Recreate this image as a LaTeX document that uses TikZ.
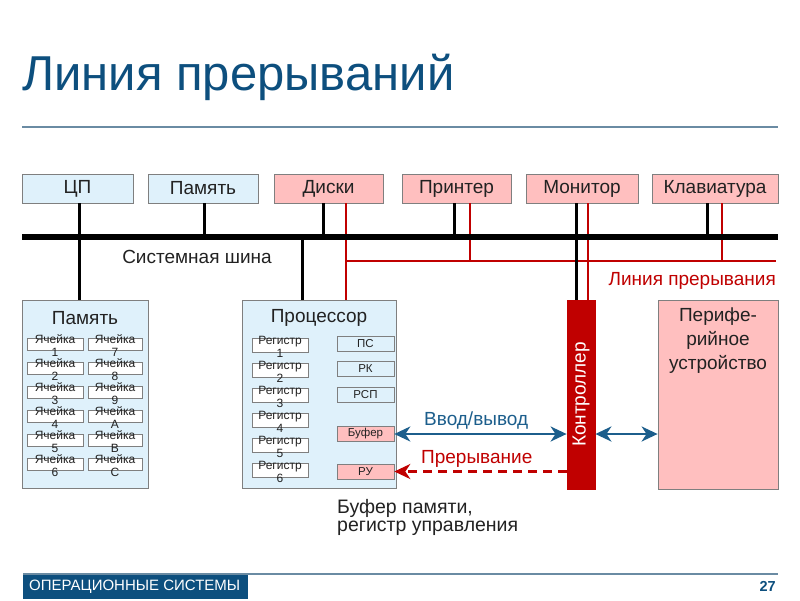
\documentclass[tikz,border=0pt]{standalone}
\usepackage{fontspec}
\setmainfont{Liberation Sans}
\usepackage{xcolor}
\usetikzlibrary{arrows.meta}
\definecolor{paleblue}{HTML}{DFF1FB}
\definecolor{palepink}{HTML}{FFBFBF}
\definecolor{irqred}{HTML}{C00000}
\definecolor{ioblue}{HTML}{1C5E8C}
\definecolor{titleblue}{HTML}{0D4F7E}
\definecolor{rulegray}{HTML}{6A8BA3}
\definecolor{boxgray}{HTML}{7F7F7F}
\definecolor{textgray}{HTML}{222222}
\newcommand\slidefont{\fontsize{19}{24}\selectfont}
\newcommand\cellfont{\fontsize{12}{12.5}\selectfont}
\newcommand\tagfont{\fontsize{11.5}{13}\selectfont}

\begin{document}
\begin{tikzpicture}[x=1pt,y=-1pt,
    topbox/.style={draw=boxgray, line width=0.8pt, minimum height=29pt, inner sep=0pt, font=\slidefont, text=textgray},
    bluebox/.style={topbox, fill=paleblue},
    pinkbox/.style={topbox, fill=palepink},
    bigbox/.style={draw=boxgray, line width=0.8pt, inner sep=0pt},
    memcell/.style={draw=boxgray, fill=white, line width=0.6pt, minimum height=12pt, inner sep=0pt},
    celltext/.style={font=\cellfont, align=center, inner sep=0pt, text=textgray},
    tagbox/.style={draw=boxgray, line width=0.6pt, minimum width=57pt, minimum height=15pt, inner sep=0pt, font=\tagfont, text=textgray},
    wire/.style={line width=3pt},
    irqwire/.style={draw=irqred, line width=2pt},
    ioarrow/.style={draw=ioblue, line width=2.5pt, {Stealth[length=16pt,width=15pt,inset=5pt]}-{Stealth[length=16pt,width=15pt,inset=5pt]}},
    irqarrow/.style={draw=irqred, line width=2.5pt, dash pattern=on 9pt off 6pt, -{Stealth[length=16pt,width=15pt,inset=5pt]}}]

     \useasboundingbox (0,0) rectangle (800,600);
     \fill[white] (0,0) rectangle (800,600);

     % draw title
     \node[anchor=base west, inner sep=0pt, font=\fontsize{49}{51}\selectfont, text=titleblue] (title) at (22,90) {Линия прерываний};
     \coordinate (ruleL) at (22,127);
     \coordinate (ruleR) at (778,127);
     \draw[rulegray, line width=1.5pt] (ruleL) -- (ruleR);

     % draw devices on the bus
     \node[bluebox, minimum width=111pt] (cpu) at (77.5,188.5) {ЦП};
     \node[bluebox, minimum width=110pt] (mem) at (203,188.5) {Память};
     \node[pinkbox, minimum width=109pt] (disk) at (328.5,188.5) {Диски};
     \node[pinkbox, minimum width=109pt] (prn) at (456.5,188.5) {Принтер};
     \node[pinkbox, minimum width=112pt] (mon) at (582,188.5) {Монитор};
     \node[pinkbox, minimum width=126pt] (kbd) at (715,188.5) {Клавиатура};

     % draw lower blocks
     \node[bigbox, fill=paleblue, minimum width=126pt, minimum height=188pt] (ram) at (85,394) {};
     \node[font=\slidefont, text=textgray] (ramtitle) at (85,318) {Память};
     \node[bigbox, fill=paleblue, minimum width=154pt, minimum height=188pt] (proc) at (319,394) {};
     \node[font=\slidefont, text=textgray] (proctitle) at (319,318) {Процессор};
     \node[bigbox, draw=irqred, fill=irqred, minimum width=28pt, minimum height=189pt] (ctrl) at (581,394.5) {};
     \node[rotate=90, text=white, font=\slidefont, inner sep=0pt] (ctrltext) at (ctrl.center) {Контроллер};
     \node[bigbox, fill=palepink, minimum width=120pt, minimum height=189pt] (dev) at (718,394.5) {};
     \node[anchor=north, align=center, font=\slidefont, text=textgray, inner sep=0pt] (devtext) at ([yshift=-7.5pt]dev.north) {Перифе-\\рийное\\устройство};

     % draw memory cells
     \foreach \a/\b [count=\i from 0] in {1/7,2/8,3/9,4/A,5/B,6/C}{
       \node[memcell, minimum width=56pt] (ml\i) at (55,344+24*\i) {};
       \node[celltext] (mlt\i) at ([yshift=-1.5pt]ml\i.center) {Ячейка\\\a};
       \node[memcell, minimum width=54pt] (mr\i) at (115,344+24*\i) {};
       \node[celltext] (mrt\i) at ([yshift=-1.5pt]mr\i.center) {Ячейка\\\b};
     }

     % draw registers
     \foreach \r [count=\i from 0] in {1,...,6}
       \node[memcell, minimum width=56pt, minimum height=14pt] (reg\r) at (280,345.5+25*\i) {}
         node[celltext] (regt\r) at ([yshift=-1.5pt]reg\r.center) {Регистр\\\r};

     \node[tagbox, fill=paleblue] (pc) at (365.5,344) {ПС};
     \node[tagbox, fill=paleblue] (ir) at (365.5,369) {РК};
     \node[tagbox, fill=paleblue] (psw) at (365.5,395) {РСП};
     \node[tagbox, fill=palepink] (buf) at (365.5,434) {Буфер};
     \node[tagbox, fill=palepink] (ru) at (365.5,471.5) {РУ};

     \coordinate (busL) at (22,237);
     \coordinate (busR) at (778,237);
     \coordinate (irqR) at (776,261);

     % draw interrupt lines
     \draw[irqwire] ([xshift=17.5pt]disk.south) -- ([xshift=17.5pt]disk.south |- proc.north);
     \draw[irqwire] ([xshift=17.5pt]disk.south |- irqR) -- (irqR);
     \draw[irqwire] ([xshift=13.5pt]prn.south) -- ([xshift=13.5pt]prn.south |- irqR);
     \draw[irqwire] ([xshift=6pt]mon.south) -- ([xshift=6pt]mon.south |- ctrl.north);
     \draw[irqwire] ([xshift=7pt]kbd.south) -- ([xshift=7pt]kbd.south |- irqR);

     % draw vertical lines
     \draw[wire] ([xshift=1.5pt]cpu.south) -- ([xshift=1.5pt]cpu.south |- ram.north);
     \draw[wire] ([xshift=1pt]mem.south) -- ([xshift=1pt]mem.south |- busL);
     \draw[wire] ([xshift=-5.5pt]disk.south) -- ([xshift=-5.5pt]disk.south |- busL);
     \draw[wire] ([xshift=-17pt]proc.north |- busL) -- ([xshift=-17pt]proc.north);
     \draw[wire] ([xshift=-2.5pt]prn.south) -- ([xshift=-2.5pt]prn.south |- busL);
     \draw[wire] ([xshift=-6pt]mon.south) -- ([xshift=-6pt]mon.south |- ctrl.north);
     \draw[wire] ([xshift=-8pt]kbd.south) -- ([xshift=-8pt]kbd.south |- busL);

     % draw system bus
     \draw[line width=6.5pt] (busL) -- (busR);
     \node[font=\slidefont, text=textgray] (buslabel) at (197,257) {Системная шина};
     \node[font=\slidefont, text=irqred, anchor=east, inner sep=0pt] (irqlabel) at (776,281) {Линия прерывания};

     % draw arrows
     \draw[ioarrow] (buf.east) -- (buf.east -| ctrl.west);
     \draw[ioarrow] (ctrl.east |- buf.east) -- (dev.west |- buf.east);
     \draw[irqarrow] (ru.east -| ctrl.west) -- (ru.east);
     \node[anchor=west, font=\slidefont, text=ioblue, inner sep=0pt] (iolabel) at (424,421) {Ввод/вывод};
     \node[anchor=west, font=\slidefont, text=irqred, inner sep=0pt] (irqtext) at (421,459) {Прерывание};
     \node[anchor=north west, align=left, inner sep=0pt, font=\fontsize{19.5}{18}\selectfont, text=textgray] (bufnote) at (337,499) {Буфер памяти,\\регистр управления};

     % draw footer
     \node[fill=titleblue, minimum width=225pt, minimum height=25pt, anchor=north west, inner sep=0pt] (footbox) at (23,574) {};
     \node[anchor=west, text=white, font=\fontsize{15}{16}\selectfont, inner sep=0pt] (foottext) at ([xshift=6pt]footbox.west) {ОПЕРАЦИОННЫЕ СИСТЕМЫ};
     \coordinate (footR) at (778,574);
     \draw[rulegray, line width=1.5pt] (footbox.north west) -- (footR);
     \node[anchor=east, text=titleblue, font=\fontsize{14.5}{16}\selectfont\bfseries, inner sep=0pt] (pageno) at (776,586) {27};

\end{tikzpicture}
\end{document}
